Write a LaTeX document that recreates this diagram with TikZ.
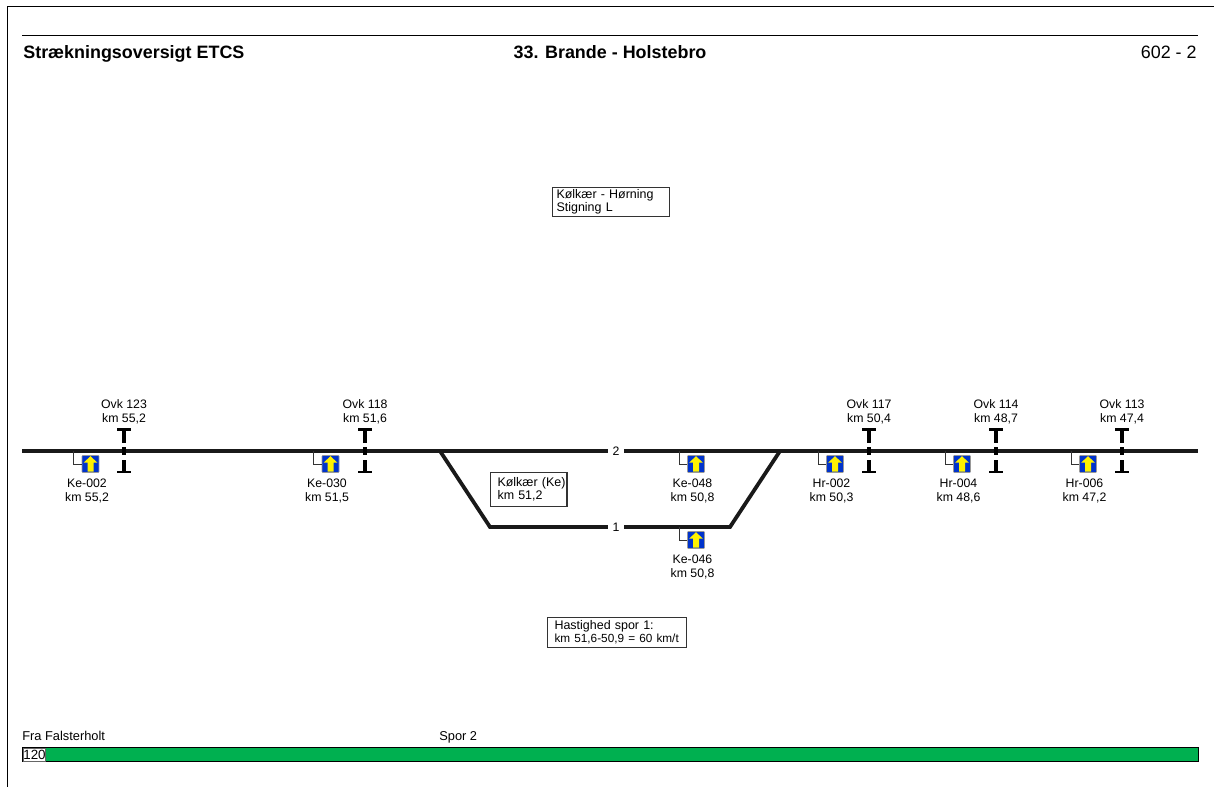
\documentclass[tikz,border=0pt]{standalone}
\usepackage{fontspec}
\setmainfont{Liberation Sans}
\usetikzlibrary{positioning}
\definecolor{baliseblue}{RGB}{0,51,204}
\definecolor{speedgreen}{RGB}{0,176,80}
\tikzset{
    track/.style={line width=2.15pt,line join=miter,draw=black!90},
    rule/.style={line width=0.55pt},
    lbl/.style={font=\fontsize{7}{7.7}\selectfont,align=center,inner sep=0pt},
    infobox/.style={draw=black!80,line width=0.6pt,font=\fontsize{7.1}{7.5}\selectfont,align=left,inner sep=0pt,anchor=north west},
    balise/.style={fill=baliseblue,draw=black!40,line width=0.3pt,rounded corners=0.4pt,minimum size=0.34cm,inner sep=0pt},
    tracknum/.style={font=\fontsize{7}{7.7}\selectfont,inner sep=2.5pt,fill=white}
}
\begin{document}
\begin{tikzpicture}[x=0.02cm,y=-0.02cm]
    \useasboundingbox (0,0) rectangle (1214,787);
    \draw[line width=0.5pt] (7,787)--(7,6)--(1214,6);
    % header
    \draw[rule] (22,35)--(1198,35);
    \node[anchor=base west,inner sep=0pt,font=\fontsize{10.2}{12}\selectfont\bfseries] (title) at (23,58.4) {Strækningsoversigt ETCS};
    \node[anchor=base,inner sep=0pt,font=\fontsize{10.2}{12}\selectfont\bfseries] (route) at (610,58.4) {33. Brande - Holstebro};
    \node[anchor=base east,inner sep=0pt,font=\fontsize{10.2}{12}\selectfont] (page) at (1197,58.4) {602 - 2};
    % tracks
    \coordinate (west2) at (22,451);
    \coordinate (east2) at (1198,451);
    \coordinate (sw2) at (440,451);
    \coordinate (sw1) at (490,527);
    \coordinate (se1) at (730,527);
    \coordinate (se2) at (780,451);
    \node[tracknum] (spor2) at (616,451) {2};
    \node[tracknum] (spor1) at (616,527) {1};
    \draw[track] (west2)--(spor2);
    \draw[track] (spor2)--(east2);
    \draw[track] (sw2)--(sw1)--(spor1);
    \draw[track] (spor1)--(se1)--(se2);
    % level crossings
    \foreach \x/\n/\k in {124/123/55{,}2,365/118/51{,}6,869/117/50{,}4,996/114/48{,}7,1122/113/47{,}4}{
        \coordinate (ovk\n) at (\x,429);
        \node[lbl,above=2.6pt of ovk\n] (ovklbl\n) {Ovk \n\\km \k};
        \draw[line width=1.6pt] (\x-7,429.5)--(\x+7,429.5);
        \draw[line width=2pt] (\x,429)--(\x,443);
        \draw[line width=2pt] (\x,447)--(\x,455);
        \draw[line width=2pt] (\x,460)--(\x,473);
        \draw[line width=1.6pt] (\x-7,472)--(\x+7,472);
    }
    % balises
    \foreach \x/\y/\n/\k in {90.5/451/Ke-002/55{,}2,330.5/451/Ke-030/51{,}5,696/451/Ke-048/50{,}8,696/527/Ke-046/50{,}8,835/451/Hr-002/50{,}3,962/451/Hr-004/48{,}6,1088/451/Hr-006/47{,}2}{
        \node[balise] (b\n) at (\x,\y+13) {};
        \draw[line width=0.55pt,draw=black!80] (b\n.west)-|(\x-17,\y);
        \fill[yellow] (b\n.north)++(0,1)--++(7,6.5)--++(-4,0)--++(0,9)--++(-6,0)--++(0,-9)--++(-4,0)--cycle;
        \node[lbl,below=3.5pt of b\n,xshift=-2pt,font=\fontsize{7}{7.9}\selectfont] (blbl\n) {\n\\km \k};
    }
    % info boxes
    \node[infobox,minimum height=0.58cm,text width=2.35cm] (strk) at (551.5,187) {\hspace*{0.09cm}Kølkær - Hørning\\\hspace*{0.09cm}Stigning L};
    \node[infobox,minimum height=0.68cm,text width=1.53cm] (stat) at (490,472) {\hspace*{0.14cm}Kølkær (Ke)\\\hspace*{0.14cm}km 51,2};
    \node[infobox,minimum height=0.6cm,text width=2.78cm] (hast) at (547,617) {\hspace*{0.14cm}Hastighed spor 1:\\\hspace*{0.14cm}\fontsize{6.7}{7.5}\selectfont km 51,6-50,9 = 60 km/t};
    % speed bar
    \node[lbl,anchor=base west,font=\fontsize{7.3}{8}\selectfont] (fra) at (22,740) {Fra Falsterholt};
    \node[lbl,anchor=base west,font=\fontsize{7.3}{8}\selectfont] (spor) at (439,740) {Spor 2};
    \draw[fill=speedgreen,line width=0.55pt] (22,747) rectangle (1198,761);
    \node[anchor=north west,draw=black!60,fill=white,line width=0.4pt,inner sep=0pt,minimum width=0.44cm,minimum height=0.26cm,font=\fontsize{7.6}{8}\selectfont] (vmax) at (23,748) {120};
\end{tikzpicture}
\end{document}
